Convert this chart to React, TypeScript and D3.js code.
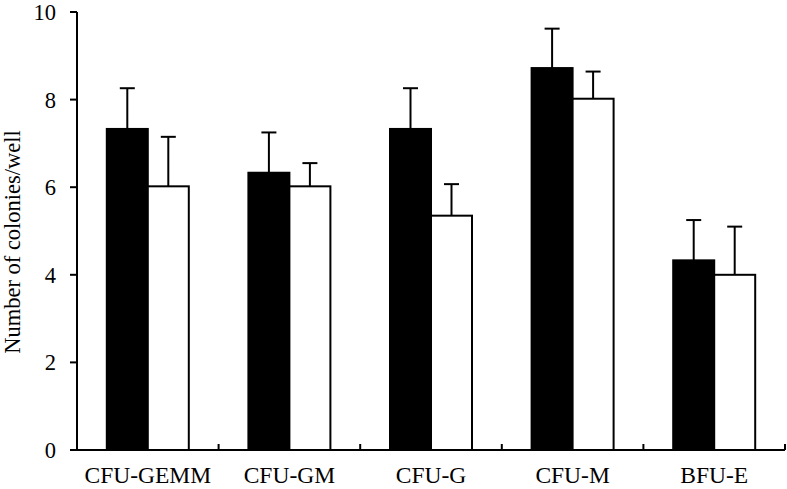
import React from 'react';
import * as d3 from 'd3';

const categories = ['CFU-GEMM', 'CFU-GM', 'CFU-G', 'CFU-M', 'BFU-E'];
const series = ['black', 'white'];
const blackValues = [7.33, 6.33, 7.33, 8.72, 4.33];
const blackErrors = [0.93, 0.92, 0.93, 0.9, 0.92];
const whiteValues = [6.02, 6.02, 5.35, 8.02, 4.0];
const whiteErrors = [1.13, 0.53, 0.72, 0.62, 1.1];
const yTicks = [0, 2, 4, 6, 8, 10];
const yLabel = 'Number of colonies/well';

const W = 787, H = 489;
const margin = { left: 77, right: 2, top: 12, bottom: 39 };
const font = '"Liberation Serif", "Times New Roman", Times, serif';

export default function App() {
  const y = d3.scaleLinear().domain([0, 10]).range([H - margin.bottom, margin.top]);
  const x = d3.scaleBand<string>().domain(categories).range([margin.left, W - margin.right]).padding(0);
  const barW = 41;

  const bars: any[] = [];
  const errs: any[] = [];
  categories.forEach((c, i) => {
    const center = (x(c) as number) + x.bandwidth() / 2;
    const inner = d3.scaleBand<string>().domain(series).range([center - barW, center + barW]);
    const rows = [
      { s: 'black', v: blackValues[i], e: blackErrors[i] },
      { s: 'white', v: whiteValues[i], e: whiteErrors[i] },
    ];
    rows.forEach((r) => {
      const bx = inner(r.s) as number;
      const cx = bx + inner.bandwidth() / 2;
      bars.push(
        <rect
          key={`bar_${i}_${r.s}`}
          x={bx}
          y={y(r.v)}
          width={inner.bandwidth()}
          height={y(0) - y(r.v)}
          fill={r.s === 'black' ? '#000' : '#fff'}
          stroke="#000"
          strokeWidth={2}
        />
      );
      // error bars only go up
      errs.push(
        <g key={`err_${i}_${r.s}`} stroke="#000" strokeWidth={2}>
          <line x1={cx} x2={cx} y1={y(r.v)} y2={y(r.v + r.e)} />
          <line x1={cx - 7.5} x2={cx + 7.5} y1={y(r.v + r.e)} y2={y(r.v + r.e)} />
        </g>
      );
    });
  });

  const yAxis = yTicks.map((t) => (
    <g key={t}>
      <line x1={margin.left - 7} x2={margin.left} y1={y(t)} y2={y(t)} stroke="#000" strokeWidth={2} />
      <text x={margin.left - 21} y={y(t) + 8} textAnchor="end" fontSize={22.5} fontFamily={font}>
        {t}
      </text>
    </g>
  ));

  const xTicks = d3.range(1, categories.length + 1).map((k) => {
    const xp = margin.left + k * x.bandwidth();
    return <line key={k} x1={xp} x2={xp} y1={y(0)} y2={y(0) - 6} stroke="#000" strokeWidth={2} />;
  });

  const xLabels = categories.map((c) => (
    <text
      key={c}
      x={(x(c) as number) + x.bandwidth() / 2}
      y={483}
      textAnchor="middle"
      fontSize={23.5}
      fontFamily={font}
    >
      {c}
    </text>
  ));

  return (
    <svg width={W} height={H} style={{ position: 'absolute', left: 0, top: 0, background: '#fff' }}>
      {bars}
      {errs}
      <line x1={margin.left} x2={margin.left} y1={margin.top} y2={y(0)} stroke="#000" strokeWidth={2} />
      <line x1={margin.left - 1} x2={W - margin.right} y1={y(0)} y2={y(0)} stroke="#000" strokeWidth={2} />
      {yAxis}
      {xTicks}
      {xLabels}
      <text
        transform={`translate(20, 242) rotate(-90)`}
        textAnchor="middle"
        fontSize={22.5}
        fontFamily={font}
      >
        {yLabel}
      </text>
    </svg>
  );
}
